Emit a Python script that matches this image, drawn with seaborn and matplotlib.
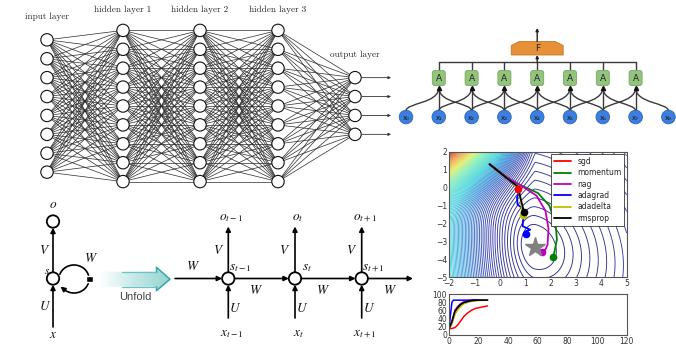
import numpy as np
import pandas as pd
import matplotlib
matplotlib.use('Agg')
import matplotlib.pyplot as plt
import seaborn as sns
from matplotlib.patches import Circle, Rectangle, Polygon, FancyBboxPatch, PathPatch
from matplotlib.path import Path
from matplotlib.collections import LineCollection
from matplotlib.colors import LinearSegmentedColormap

sns.set_style('white')
plt.rcParams['mathtext.fontset'] = 'stix'

# ---------------- data ----------------
# fully connected net
layer_names = ['input layer', 'hidden layer 1', 'hidden layer 2', 'hidden layer 3', 'output layer']
layer_sizes = [8, 9, 9, 9, 4]

# 1d conv net
cnn_inputs = ['x₀', 'x₁', 'x₂', 'x₃', 'x₄', 'x₅', 'x₆', 'x₇', 'x₈']
cnn_unit = 'A'
cnn_top = 'F'

# rnn unfold
rnn_steps = ['t-1', 't', 't+1']

# optimizer paths on the contour plot
optimizers = ['sgd', 'momentum', 'nag', 'adagrad', 'adadelta', 'rmsprop']
minimum_pt = (1.4, -3.3)
sgd_path = [(-0.4, 1.3), (0.3, 0.5), (0.7, 0.0), (0.72, -0.1)]
momentum_path = [(-0.4, 1.3), (0.3, 0.55), (0.8, 0.15), (1.5, -0.3), (1.95, -1.0), (2.2, -2.0),
                 (2.25, -2.9), (2.15, -3.6), (2.1, -3.85)]
nag_path = [(-0.4, 1.3), (0.3, 0.55), (0.85, 0.1), (1.45, -0.45), (1.8, -1.3), (1.92, -2.3),
            (1.88, -3.2), (1.78, -3.5), (1.65, -3.6)]
adagrad_path = [(-0.4, 1.3), (0.3, 0.5), (0.7, 0.0), (0.75, -0.3), (0.68, -0.55), (0.7, -0.95),
                (0.9, -1.15), (0.93, -1.6), (0.9, -2.15), (1.2, -2.35), (1.0, -2.45), (1.05, -2.6)]
adadelta_path = [(-0.4, 1.3), (0.3, 0.5), (0.7, 0.0), (0.8, -0.5), (0.85, -1.0), (0.9, -1.5)]
rmsprop_path = [(-0.4, 1.3), (0.3, 0.5), (0.72, 0.05), (0.82, -0.6), (0.9, -1.05), (0.95, -1.38)]

# accuracy curves (bottom small plot)
sgd_x = [0, 2, 4, 6, 8, 10, 12, 15, 18, 22, 26]
sgd_y = [15, 16, 18, 25, 35, 45, 52, 60, 65, 68, 71]
momentum_x = [0, 2, 4, 6, 8, 10, 13, 16, 20, 26]
momentum_y = [15, 30, 55, 65, 72, 78, 82, 84, 85, 85]
nag_x = [0, 2, 4, 6, 8, 10, 13, 16, 26]
nag_y = [15, 35, 60, 70, 77, 81, 84, 86, 86]
adagrad_x = [0, 1, 2, 3, 6, 12, 18, 26]
adagrad_y = [15, 50, 80, 85, 85, 85, 85, 85]
adadelta_x = [0, 2, 4, 6, 8, 10, 13, 16, 20, 26]
adadelta_y = [15, 28, 50, 62, 70, 76, 80, 83, 84, 85]
rmsprop_x = [0, 2, 4, 6, 8, 10, 13, 16, 20, 26]
rmsprop_y = [15, 32, 58, 68, 75, 79, 82, 84, 85, 85]

opt_colors = {'sgd': 'r', 'momentum': 'g', 'nag': 'm', 'adagrad': 'b', 'adadelta': 'y', 'rmsprop': 'k'}

# ---------------- figure ----------------
fig = plt.figure(figsize=(6.76, 3.48), dpi=100)
fig.patch.set_facecolor('white')
ax = fig.add_axes([0, 0, 1, 1])
ax.set_xlim(0, 676)
ax.set_ylim(348, 0)
ax.axis('off')


def arrow(x0, y0, x1, y1, lw=1.2, ms=7, color='k'):
    ax.annotate('', xy=(x1, y1), xytext=(x0, y0),
                arrowprops=dict(arrowstyle='-|>', lw=lw, color=color, mutation_scale=ms,
                                shrinkA=0, shrinkB=0))


# ---- fully connected network (top left) ----
layer_x = [47, 123, 200, 278, 355]
gap = 18.9
node_pos = []
for lx, n in zip(layer_x, layer_sizes):
    ys = 106 + (np.arange(n) - (n - 1) / 2) * gap
    node_pos.append([(lx, y) for y in ys])

segs = []
for a, b in zip(node_pos[:-1], node_pos[1:]):
    for p in a:
        for q in b:
            segs.append([p, q])
ax.add_collection(LineCollection(segs, colors='#2a2a2a', linewidths=0.5, zorder=1))
for layer in node_pos:
    for (x, y) in layer:
        ax.add_patch(Circle((x, y), 6.2, facecolor='white', edgecolor='#111111', lw=0.8, zorder=2))
for (x, y) in node_pos[-1]:
    arrow(x + 7, y, 391, y, lw=0.6, ms=4, color='#333333')

label_xy = [(47, 17), (123, 10), (200, 10), (278, 10), (355, 55)]
for name, (x, y) in zip(layer_names, label_xy):
    ax.text(x, y, name, ha='center', va='center', fontsize=6.6, family='cmr10', color='#222222')

# ---- 1d conv net (top right) ----
cx = [406 + 32.8 * i for i in range(len(cnn_inputs))]
node_y, box_top, box_bot = 117, 70.5, 85.5
line_c = '#3a3a3a'
for i in range(1, len(cnn_inputs) - 1):
    for j in (i - 1, i + 1):
        verts = [(cx[j], node_y - 6), (cx[j], 102.5), (cx[i], 104), (cx[i], box_bot + 2)]
        ax.add_patch(PathPatch(Path(verts, [Path.MOVETO, Path.CURVE4, Path.CURVE4, Path.CURVE4]),
                               fill=False, edgecolor=line_c, lw=1.0, zorder=1))
    ax.plot([cx[i], cx[i]], [node_y - 6, box_bot + 2], color=line_c, lw=1.0, zorder=1)
    ax.plot(cx[i], box_bot + 2.2, marker='^', ms=3, color='#111111', zorder=3)
    ax.plot([cx[i], cx[i]], [62, box_top], color=line_c, lw=1.0, zorder=1)
    ax.add_patch(FancyBboxPatch((cx[i] - 6.5, box_top), 13, box_bot - box_top,
                                boxstyle='round,pad=0,rounding_size=2.5',
                                facecolor='#93c47d', edgecolor='#77a85f', lw=0.6, zorder=2))
    ax.text(cx[i], 78.5, cnn_unit, ha='center', va='center', fontsize=6.5, color='#222222', zorder=3)
ax.plot([cx[1], cx[-2]], [62, 62], color=line_c, lw=1.0, zorder=1)

for x, lab in zip(cx, cnn_inputs):
    ax.add_patch(Circle((x, node_y), 6.8, facecolor='#3d7fe0', edgecolor='#2a62b5', lw=0.6, zorder=2))
    ax.text(x, node_y + 0.5, lab, ha='center', va='center', fontsize=5, color='#1a1a1a', zorder=3)

fx = cx[4]
arrow(fx, 62, fx, 55, lw=1.0, ms=4, color='#222222')
ax.add_patch(Polygon([(fx - 26, 55), (fx - 26, 45.5), (fx - 18, 41.5), (fx + 18, 41.5),
                      (fx + 26, 45.5), (fx + 26, 55)], closed=True,
                     facecolor='#e69138', edgecolor='#c7772a', lw=0.6, zorder=2))
ax.text(fx, 48.5, cnn_top, ha='center', va='center', fontsize=6.5, color='#222222', zorder=3)
arrow(fx, 41.5, fx, 28, lw=1.0, ms=4, color='#222222')

# ---- RNN unfolding (bottom left) ----
r = 6.2
sy = 278.5
lab_kw = dict(fontsize=9.5, color='#111111', ha='center', va='center')
# folded
ax.add_patch(Circle((53, 221.5), r, facecolor='white', edgecolor='k', lw=1.3, zorder=3))
ax.add_patch(Circle((53, sy), r, facecolor='white', edgecolor='k', lw=1.3, zorder=3))
arrow(53, sy - r, 53, 221.5 + r)
arrow(53, 327, 53, sy + r)
ax.text(53, 205, r'$o$', **lab_kw)
ax.text(45, 250, r'$V$', **lab_kw)
ax.text(47.5, 271, r'$s$', fontsize=8, color='#111111', ha='center', va='center')
ax.text(45, 307, r'$U$', **lab_kw)
ax.text(53, 335, r'$x$', **lab_kw)
ax.text(91, 259, r'$W$', **lab_kw)
t = np.radians(np.linspace(160, -130, 80))
lx_ = 74 + 15 * np.cos(t)
ly_ = 279 - 14 * np.sin(t)
ax.plot(lx_, ly_, color='k', lw=1.2, zorder=2)
arrow(lx_[-2], ly_[-2], 60.5, 286.5, lw=1.2, ms=7)
ax.add_patch(Rectangle((86, 275.5), 6.5, 6.5, facecolor='k', zorder=4))

# unfold arrow with gradient
body_top, body_bot, head_top, head_bot = 271.7, 286.7, 267.3, 290.7
arrow_poly = [(100, body_top), (156.5, body_top), (156.5, head_top), (170, 279.2),
              (156.5, head_bot), (156.5, body_bot), (100, body_bot)]
grad_cmap = LinearSegmentedColormap.from_list('unf', ['#ffffff', '#c4e8e7', '#96d4d2'])
grad = np.linspace(0, 1, 200).reshape(1, -1)
im = ax.imshow(grad, cmap=grad_cmap, extent=(100, 170, head_bot, head_top), aspect='auto', zorder=1)
clip = Polygon(arrow_poly, closed=True, transform=ax.transData, facecolor='none', edgecolor='none')
ax.add_patch(clip)
im.set_clip_path(clip)
ax.plot([156.5, 156.5, 170, 156.5, 156.5], [body_top, head_top, 279.2, head_bot, body_bot],
        color='#34a9a6', lw=1.1, zorder=2)
ax.plot([122, 156.5], [body_top, body_top], color='#6cc3c1', lw=0.9, zorder=2)
ax.plot([122, 156.5], [body_bot, body_bot], color='#6cc3c1', lw=0.9, zorder=2)
ax.text(135, 297.5, 'Unfold', fontsize=8, color='#444444', ha='center', va='center', family='Liberation Sans')

# unfolded
ux = [228.3, 295, 361.7]
arrow(175, sy, ux[0] - r, sy)
ax.text(193, 267, r'$W$', **lab_kw)
for k, (x, st) in enumerate(zip(ux, rnn_steps)):
    ax.add_patch(Circle((x, sy), r, facecolor='white', edgecolor='k', lw=1.3, zorder=3))
    arrow(x, sy - r, x, 226.5)
    arrow(x, 318, x, sy + r)
    x_end = ux[k + 1] - r if k < len(ux) - 1 else 413
    arrow(x + r, sy, x_end, sy)
    ax.text(x + 28, 290, r'$W$', **lab_kw)
    ax.text(x - 10, 250, r'$V$', **lab_kw)
    ax.text(x + 7, 308, r'$U$', **lab_kw)
    ax.text(x + 3, 217, r'$o_{%s}$' % st, **lab_kw)
    ax.text(x + 12, 268, r'$s_{%s}$' % st, **lab_kw)
    ax.text(x + 3, 333, r'$x_{%s}$' % st, **lab_kw)

# ---- optimizer contour plot (bottom right) ----
cax = fig.add_axes([449 / 676, 1 - 277.3 / 348, 177.7 / 676, 125.6 / 348])
gx, gy = np.meshgrid(np.linspace(-2, 5, 400), np.linspace(-5, 2, 400))
dx, dy = gx - minimum_pt[0], gy - minimum_pt[1]
ang = np.radians(12)
u = dx * np.cos(ang) + dy * np.sin(ang)
v = -dx * np.sin(ang) + dy * np.cos(ang)
base = np.sqrt(u ** 2 + (v / 1.6) ** 2)
left = np.clip(-dx, 0, None)
top = np.clip(dy - 1, 0, None)
z = base + 0.85 * left ** 2 + 0.1175 * left ** 1.3 * top ** 2.6
surf_cmap = LinearSegmentedColormap.from_list(
    'surf', [(0, '#2a2a85'), (0.1, '#3e46b0'), (0.2, '#3c8ad8'), (0.32, '#4fd6e0'),
             (0.48, '#8ff0c0'), (0.62, '#e6f07a'), (0.8, '#f0a860'), (1, '#c84848')])
cax.contour(gx, gy, z, levels=np.arange(0.8, z.max(), 0.32), cmap=surf_cmap, linewidths=0.65)

paths = [sgd_path, momentum_path, nag_path, adagrad_path, adadelta_path, rmsprop_path]
for name, p in zip(optimizers, paths):
    p = np.array(p)
    cax.plot(p[:, 0], p[:, 1], color=opt_colors[name], lw=1.3, label=name)
for name, p in zip(optimizers, paths):
    cax.plot(p[-1][0], p[-1][1], 'o', color=opt_colors[name], ms=4.5, mec=opt_colors[name])
cax.plot(*minimum_pt, marker='*', ms=15, color='#808080', mec='#808080')
cax.set_xlim(-2, 5)
cax.set_ylim(-5, 2)
cax.set_xticks(range(-2, 6))
cax.set_yticks(range(-5, 3))
leg = cax.legend(loc='upper right', fontsize=5.5, frameon=True, fancybox=False,
                 borderpad=0.4, labelspacing=0.3, handlelength=2.2, borderaxespad=0.3)
leg.get_frame().set_edgecolor('#333333')
leg.get_frame().set_linewidth(0.6)
leg.get_frame().set_alpha(1)

# ---- accuracy plot ----
lax = fig.add_axes([449 / 676, 1 - 335 / 348, 177.7 / 676, 41 / 348])
rows = []
xs_all = [sgd_x, momentum_x, nag_x, adagrad_x, adadelta_x, rmsprop_x]
ys_all = [sgd_y, momentum_y, nag_y, adagrad_y, adadelta_y, rmsprop_y]
for name, xs, ys in zip(optimizers, xs_all, ys_all):
    for a, b in zip(xs, ys):
        rows.append({'step': a, 'acc': b, 'opt': name})
df = pd.DataFrame(rows)
sns.lineplot(data=df, x='step', y='acc', hue='opt', palette=opt_colors, estimator=None,
             sort=False, legend=False, lw=1.1, ax=lax)
lax.set_xlim(0, 120)
lax.set_ylim(0, 100)
lax.set_xticks(range(0, 121, 20))
lax.set_yticks(range(0, 101, 20))
lax.set_xlabel('')
lax.set_ylabel('')

for a_ in (cax, lax):
    a_.tick_params(direction='in', labelsize=5.5, length=2, colors='#333333', pad=1.5)
    for s in a_.spines.values():
        s.set_color('#555555')
        s.set_linewidth(0.8)

fig.savefig('out.png', dpi=100, facecolor='white')
